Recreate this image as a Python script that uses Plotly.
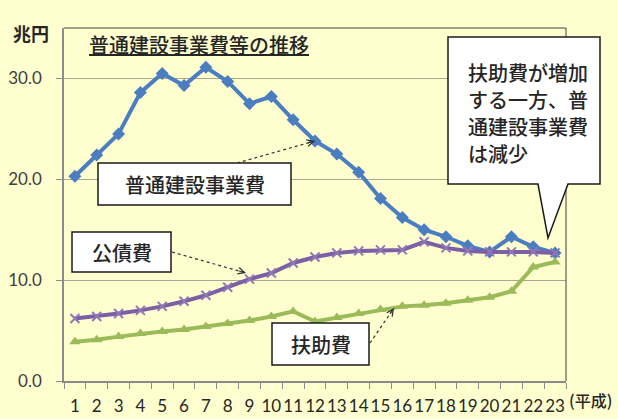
import plotly.graph_objects as go

# ---- data ----
years = [str(i) for i in range(1, 24)]
kensetsu = [20.3, 22.4, 24.5, 28.6, 30.5, 29.3, 31.1, 29.7, 27.5, 28.2, 25.9, 23.8,
            22.5, 20.7, 18.1, 16.2, 15.0, 14.3, 13.4, 12.8, 14.3, 13.3, 12.7]
kousai = [6.2, 6.4, 6.7, 7.0, 7.4, 7.9, 8.5, 9.3, 10.1, 10.7, 11.7, 12.3,
          12.7, 12.9, 13.0, 13.0, 13.8, 13.2, 12.9, 12.8, 12.8, 12.8, 12.7]
fujo = [3.9, 4.1, 4.4, 4.7, 4.9, 5.1, 5.4, 5.7, 6.0, 6.4, 6.9, 5.9,
        6.3, 6.7, 7.1, 7.4, 7.5, 7.7, 8.0, 8.3, 8.9, 11.3, 11.8]
y_ticks = [0, 10, 20, 30]
y_ticklabels = ["0.0", "10.0", "20.0", "30.0"]

BG = "#FFFECF"
FONT = "Noto Sans CJK JP"
NUMFONT = "Lato"
BLUE = "#4A7EC0"
PURPLE = "#7D5FA6"
GREEN = "#9BBB59"
TXT = "#262626"

W, H = 618, 419
L, R, T, B = 64, 566, 28, 381
YMAX = 35.0


def px(x, y):
    """pixel -> paper coordinates"""
    return (x - L) / (R - L), (B - y) / (B - T)


def data_paper(idx, val):
    return (idx + 0.5) / len(years), val / YMAX


fig = go.Figure()
fig.add_trace(go.Scatter(
    x=years, y=kensetsu, mode="lines+markers", name="普通建設事業費",
    line=dict(color=BLUE, width=4),
    marker=dict(symbol="diamond", size=10, color=BLUE)))
fig.add_trace(go.Scatter(
    x=years, y=kousai, mode="lines+markers", name="公債費",
    line=dict(color=PURPLE, width=4),
    marker=dict(symbol="x-thin", size=9, color=PURPLE,
                line=dict(color="#8F79B5", width=2))))
fig.add_trace(go.Scatter(
    x=years, y=fujo, mode="lines+markers", name="扶助費",
    line=dict(color=GREEN, width=4),
    marker=dict(symbol="triangle-up", size=10, color=GREEN)))

shapes = []
annotations = []

# frame top/right
shapes.append(dict(type="line", xref="paper", yref="paper", x0=0, x1=1, y0=1, y1=1,
                   line=dict(color="#404040", width=1)))
shapes.append(dict(type="line", xref="paper", yref="paper", x0=1, x1=1, y0=0, y1=1,
                   line=dict(color="#404040", width=1)))

# title
tx, ty = px(199, 45)
annotations.append(dict(xref="paper", yref="paper", x=tx, y=ty, showarrow=False,
                        text="<u>普通建設事業費等の推移</u>",
                        font=dict(family=FONT, size=20, color=TXT, weight=500),
                        xanchor="center", yanchor="middle"))

# unit label
ux, uy = px(31, 33)
annotations.append(dict(xref="paper", yref="paper", x=ux, y=uy, showarrow=False,
                        text="<b>兆円</b>", font=dict(family=FONT, size=18, color=TXT),
                        xanchor="center", yanchor="middle"))

# (平成)
hx, hy = px(590, 400)
annotations.append(dict(xref="paper", yref="paper", x=hx, y=hy, showarrow=False,
                        text="(平成)", font=dict(family=FONT, size=16, color=TXT, weight=500),
                        xanchor="center", yanchor="middle"))


def label_box(cx, cy, w, h, text, size=20):
    x0, y0 = px(cx - w / 2, cy + h / 2)
    x1, y1 = px(cx + w / 2, cy - h / 2)
    shapes.append(dict(type="rect", xref="paper", yref="paper", x0=x0, x1=x1, y0=y0, y1=y1,
                       fillcolor="white", line=dict(color="#1a1a1a", width=1.5), layer="above"))
    ax_, ay_ = px(cx, cy)
    annotations.append(dict(xref="paper", yref="paper", x=ax_, y=ay_, showarrow=False,
                            text=text, font=dict(family=FONT, size=size, color=TXT, weight=500),
                            xanchor="center", yanchor="middle"))


def pointer(tail_px, head_paper):
    tx_, ty_ = px(*tail_px)
    hx_, hy_ = head_paper
    shapes.append(dict(type="line", xref="paper", yref="paper", x0=tx_, y0=ty_, x1=hx_, y1=hy_,
                       line=dict(color="#333333", width=1.2, dash="dot"), layer="above"))
    dxp = (tx_ - hx_) * (R - L)
    dyp = -(ty_ - hy_) * (B - T)
    n = (dxp ** 2 + dyp ** 2) ** 0.5
    annotations.append(dict(xref="paper", yref="paper", x=hx_, y=hy_, ax=dxp / n * 9,
                            ay=dyp / n * 9, showarrow=True, arrowhead=5, arrowsize=1.3,
                            arrowwidth=1, arrowcolor="#333333", text=""))


label_box(194.5, 184, 193, 42, "普通建設事業費")
pointer((237, 163), data_paper(11, kensetsu[11]))

label_box(121.5, 252, 99, 40, "公債費")
pointer((172, 252), px(246, 273))

label_box(320.5, 344, 97, 42, "扶助費")
pointer((370, 343), px(394, 308))

# callout bubble
pts = [(448, 37), (600, 37), (600, 184), (568, 184), (548, 238), (538, 184), (448, 184)]
path = ""
for i, (xx, yy) in enumerate(pts):
    a, b = px(xx, yy)
    path += ("M" if i == 0 else "L") + f"{a:.5f},{b:.5f} "
path += "Z"
shapes.append(dict(type="path", xref="paper", yref="paper", path=path,
                   fillcolor="white", line=dict(color="#1a1a1a", width=1.5), layer="above"))
callout_lines = ["扶助費が増加", "する一方、普", "通建設事業費", "は減少"]
for i, line in enumerate(callout_lines):
    cx_, cy_ = px(466, 72 + i * 27)
    annotations.append(dict(xref="paper", yref="paper", x=cx_, y=cy_, showarrow=False,
                            text=line, font=dict(family=FONT, size=20, color=TXT, weight=500),
                            xanchor="left", yanchor="middle"))

fig.update_layout(
    width=W, height=H,
    margin=dict(l=L, r=W - R, t=T, b=H - B, pad=0),
    paper_bgcolor=BG, plot_bgcolor=BG,
    showlegend=False,
    font=dict(family=FONT, color="#404040"),
    shapes=shapes, annotations=annotations,
    xaxis=dict(type="category", tickson="boundaries", ticks="outside", ticklen=6,
               tickcolor="#8c8c8c", showline=True, linecolor="#8c8c8c", linewidth=1.5,
               showgrid=False, tickangle=0, automargin=False,
               tickfont=dict(family=NUMFONT, size=17, color=TXT),
               ticklabelstandoff=9, range=[-0.5, 22.5], fixedrange=True),
    yaxis=dict(range=[0, YMAX], tickvals=y_ticks, ticktext=y_ticklabels, ticks="outside",
               ticklen=6, tickcolor="#8c8c8c", showline=True, linecolor="#8c8c8c", linewidth=1.5,
               showgrid=True, gridcolor="#A8A695", gridwidth=1, zeroline=False,
               automargin=False,
               tickfont=dict(family=NUMFONT, size=17, color="#404040"), ticklabelstandoff=11,
               fixedrange=True),
)

fig.write_html("out.html", config={"displayModeBar": False},
               post_script="document.body.style.margin='0px';"
                           "document.body.style.background='" + BG + "';")
